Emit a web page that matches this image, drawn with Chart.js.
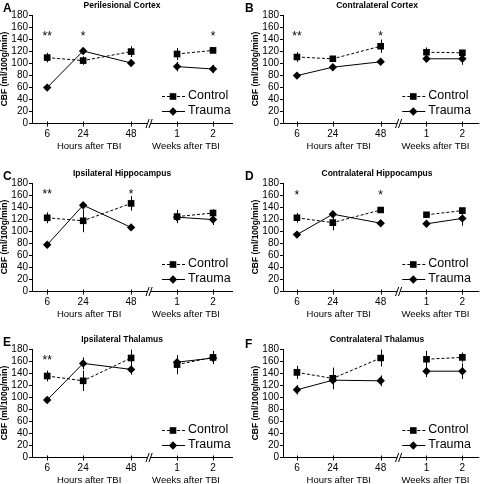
<!DOCTYPE html>
<html>
<head>
<meta charset="utf-8">
<script src="https://cdn.jsdelivr.net/npm/chart.js@4.4.1/dist/chart.umd.min.js"></script>
<style>
  html, body { margin: 0; padding: 0; background: #fff; overflow: hidden; }
  body { width: 484px; height: 484px; position: relative; }
  canvas { position: absolute; }
  .letra { position: absolute; font: bold 12px "Liberation Sans", Arial, sans-serif; line-height: 12px; color: #000; }
</style>
</head>
<body>
<script>
// Puntos de tiempo: 6/24/48 h y 1/2 semanas despues del TBI
const TIEMPOS = ['6', '24', '48', '1', '2'];
// posicion en el eje (horas reales para 6/24/48, semanas colocadas tras el corte)
const X_POS = [6, 24, 48, 71, 89];
const X_CORTE = 57;

const LETRAS = ['A', 'B', 'C', 'D', 'E', 'F'];
const TITULOS = [
    'Perilesional Cortex', 'Contralateral Cortex',
    'Ipsilateral Hippocampus', 'Contralateral Hippocampus',
    'Ipsilateral Thalamus', 'Contralateral Thalamus'
];

// A - Perilesional Cortex
const controlA = [109, 104, 119, 115, 121];
const controlErrA = [8, 7, 9, 10, 4];
const traumaA = [59, 120, 100, 94, 90];
const traumaErrA = [3, 3, 3, 8, 7];
const estrellasA = ['**', '*', '', '', '*'];

// B - Contralateral Cortex
const controlB = [110, 107, 128, 118, 117];
const controlErrB = [8, 4, 11, 8, 4];
const traumaB = [79, 93, 102, 107, 107];
const traumaErrB = [3, 3, 3, 4, 10];
const estrellasB = ['**', '', '*', '', ''];

// C - Ipsilateral Hippocampus
const controlC = [122, 117, 146, 124, 130];
const controlErrC = [9, 19, 12, 11, 6];
const traumaC = [77, 143, 106, 123, 119];
const traumaErrC = [3, 5, 4, 5, 9];
const estrellasC = ['**', '', '*', '', ''];

// D - Contralateral Hippocampus
const controlD = [122, 114, 135, 127, 134];
const controlErrD = [8, 13, 4, 4, 4];
const traumaD = [94, 128, 113, 112, 121];
const traumaErrD = [5, 4, 3, 4, 12];
const estrellasD = ['*', '', '*', '', ''];

// E - Ipsilateral Thalamus
const controlE = [135, 127, 165, 154, 166];
const controlErrE = [9, 17, 14, 16, 11];
const traumaE = [95, 156, 146, 158, 165];
const traumaErrE = [3, 10, 9, 8, 6];
const estrellasE = ['**', '', '', '', ''];

// F - Contralateral Thalamus
const controlF = [141, 131, 165, 163, 166];
const controlErrF = [11, 18, 14, 14, 8];
const traumaF = [112, 128, 127, 143, 143];
const traumaErrF = [8, 14, 9, 10, 13];
const estrellasF = ['', '', '', '', ''];

const FUENTE = '"Liberation Sans", Arial, sans-serif';
Chart.defaults.font.family = FUENTE;
Chart.defaults.color = '#000';

// Geometria de columnas y filas
const COLUMNAS = [
    { left: 0, width: 242, padDer: 9, min: -1.6, max: 99, tituloX: 122, legendaDx: 45, letraX: 3 },
    { left: 251, width: 233, padDer: 2, min: -1, max: 97.5, tituloX: 126, legendaDx: 51, letraX: 245 }
];
const FILAS = [0, 168, 334];
const ALTO = 156;

const paneles = [
    { control: controlA, controlErr: controlErrA, trauma: traumaA, traumaErr: traumaErrA, estrellas: estrellasA, yEstrellas: 150 },
    { control: controlB, controlErr: controlErrB, trauma: traumaB, traumaErr: traumaErrB, estrellas: estrellasB, yEstrellas: 150 },
    { control: controlC, controlErr: controlErrC, trauma: traumaC, traumaErr: traumaErrC, estrellas: estrellasC, yEstrellas: 166 },
    { control: controlD, controlErr: controlErrD, trauma: traumaD, traumaErr: traumaErrD, estrellas: estrellasD, yEstrellas: 165 },
    { control: controlE, controlErr: controlErrE, trauma: traumaE, traumaErr: traumaErrE, estrellas: estrellasE, yEstrellas: 166 },
    { control: controlF, controlErr: controlErrF, trauma: traumaF, traumaErr: traumaErrF, estrellas: estrellasF, yEstrellas: 166 }
];

function marcador(ctx, tipo, x, y) {
    ctx.beginPath();
    if (tipo === 'rect') {
        ctx.rect(x - 3.3, y - 3.3, 6.6, 6.6);
    } else {
        ctx.moveTo(x, y - 4.2);
        ctx.lineTo(x + 4.2, y);
        ctx.lineTo(x, y + 4.2);
        ctx.lineTo(x - 4.2, y);
        ctx.closePath();
    }
    ctx.fill();
}

// Plugin para barras de error, eje X con corte, asteriscos, leyenda y titulos
function crearDecoracion(p, col, titulo) {
    return {
        id: 'decoracion',
        beforeDatasetsDraw(chart) {
            const ctx = chart.ctx, xs = chart.scales.x, ys = chart.scales.y;
            ctx.save();
            ctx.strokeStyle = '#000';
            ctx.lineWidth = 1;
            [[p.control, p.controlErr], [p.trauma, p.traumaErr]].forEach(([vals, errs]) => {
                vals.forEach((v, i) => {
                    const x = Math.round(xs.getPixelForValue(X_POS[i])) + 0.5;
                    ctx.beginPath();
                    ctx.moveTo(x, ys.getPixelForValue(v - errs[i]));
                    ctx.lineTo(x, ys.getPixelForValue(v + errs[i]));
                    ctx.stroke();
                });
            });
            ctx.restore();
        },
        afterDraw(chart) {
            const ctx = chart.ctx, xs = chart.scales.x, ys = chart.scales.y;
            const area = chart.chartArea;
            const y0 = Math.round(area.bottom) + 0.5;
            ctx.save();
            ctx.strokeStyle = '#000';
            ctx.fillStyle = '#000';
            ctx.lineWidth = 1;

            // eje X con corte
            const bx = xs.getPixelForValue(X_CORTE);
            ctx.beginPath();
            ctx.moveTo(area.left, y0);
            ctx.lineTo(bx - 1.5, y0);
            ctx.moveTo(bx + 1.5, y0);
            ctx.lineTo(area.right, y0);
            [-1.5, 1.5].forEach(d => {
                ctx.moveTo(bx + d - 1.6, y0 + 4.5);
                ctx.lineTo(bx + d + 1.6, y0 - 4.5);
            });
            // marcas de los ticks
            X_POS.forEach(v => {
                const x = Math.round(xs.getPixelForValue(v)) + 0.5;
                ctx.moveTo(x, y0 - 2);
                ctx.lineTo(x, y0 + 3);
            });
            ctx.stroke();

            // asteriscos de significancia
            ctx.font = '12px ' + FUENTE;
            ctx.textAlign = 'center';
            ctx.textBaseline = 'alphabetic';
            p.estrellas.forEach((s, i) => {
                if (!s) return;
                ctx.fillText(s, xs.getPixelForValue(X_POS[i]), ys.getPixelForValue(p.yEstrellas) + 6.9);
            });

            // titulos de grupo del eje X
            ctx.font = '9.5px ' + FUENTE;
            ctx.textBaseline = 'middle';
            ctx.fillText('Hours after TBI', xs.getPixelForValue(27), area.bottom + 23.5);
            ctx.fillText('Weeks after TBI', xs.getPixelForValue(75.5), area.bottom + 23.5);

            // titulo del panel
            ctx.font = 'bold 8.5px ' + FUENTE;
            ctx.fillText(titulo, col.tituloX, 6);

            // leyenda
            const tx = area.right - col.legendaDx;
            [['Control', 'rect', [3, 2], area.bottom - 27], ['Trauma', 'rectRot', [], area.bottom - 12.5]]
                .forEach(([txt, tipo, dash, y]) => {
                    ctx.setLineDash(dash);
                    ctx.beginPath();
                    ctx.moveTo(tx - 26, Math.round(y) + 0.5);
                    ctx.lineTo(tx - 3, Math.round(y) + 0.5);
                    ctx.stroke();
                    ctx.setLineDash([]);
                    marcador(ctx, tipo, tx - 15, Math.round(y) + 0.5);
                    ctx.font = '12.5px ' + FUENTE;
                    ctx.textAlign = 'left';
                    ctx.textBaseline = 'middle';
                    ctx.fillText(txt, tx, y);
                });
            ctx.restore();
        }
    };
}

function serie(valores, estilo, radio, guiones) {
    return {
        data: X_POS.map((x, i) => ({ x: x, y: valores[i] })),
        borderColor: '#000',
        backgroundColor: '#000',
        borderWidth: 1,
        borderDash: guiones,
        pointStyle: estilo,
        pointRadius: radio,
        pointBorderWidth: 0,
        tension: 0,
        // sin linea entre 48 h y 1 semana (corte del eje)
        segment: { borderColor: ctx => ctx.p0DataIndex === 2 ? 'rgba(0,0,0,0)' : '#000' }
    };
}

paneles.forEach((p, idx) => {
    const col = COLUMNAS[idx % 2];
    const top = FILAS[Math.floor(idx / 2)];

    const canvas = document.createElement('canvas');
    canvas.width = col.width;
    canvas.height = ALTO;
    canvas.style.left = col.left + 'px';
    canvas.style.top = top + 'px';
    canvas.style.width = col.width + 'px';
    canvas.style.height = ALTO + 'px';
    document.body.appendChild(canvas);

    const letra = document.createElement('div');
    letra.className = 'letra';
    letra.textContent = LETRAS[idx];
    letra.style.left = col.letraX + 'px';
    letra.style.top = (top + 1.5 + (idx === 5 ? 2 : 0)) + 'px';
    document.body.appendChild(letra);

    new Chart(canvas.getContext('2d'), {
        type: 'line',
        data: {
            datasets: [
                serie(p.control, 'rect', 4.7, [3, 2]),
                serie(p.trauma, 'rectRot', 4.2, [])
            ]
        },
        options: {
            responsive: false,
            animation: false,
            devicePixelRatio: 1,
            layout: { padding: { left: 0, right: col.padDer, top: 15, bottom: 0 } },
            scales: {
                x: {
                    type: 'linear',
                    min: col.min,
                    max: col.max,
                    afterFit: s => { s.height = 33; },
                    afterBuildTicks: s => { s.ticks = X_POS.map(v => ({ value: v })); },
                    grid: { display: false, drawTicks: false },
                    border: { display: false },
                    ticks: {
                        autoSkip: false,
                        maxRotation: 0,
                        padding: 5,
                        font: { size: 10 },
                        callback: v => {
                            const i = X_POS.indexOf(v);
                            return i >= 0 ? TIEMPOS[i] : '';
                        }
                    }
                },
                y: {
                    min: 0,
                    max: 180,
                    afterFit: s => { s.width = 32; },
                    grid: { drawOnChartArea: false, tickLength: 3, color: '#000' },
                    border: { color: '#000', width: 1 },
                    ticks: { stepSize: 20, autoSkip: false, padding: 1, font: { size: 10 } },
                    title: {
                        display: true,
                        text: 'CBF (ml/100g/min)',
                        padding: 0,
                        font: { size: 8.5, weight: 'bold' }
                    }
                }
            },
            plugins: {
                legend: { display: false },
                tooltip: { enabled: false }
            }
        },
        plugins: [crearDecoracion(p, col, TITULOS[idx])]
    });
});
</script>
</body>
</html>
